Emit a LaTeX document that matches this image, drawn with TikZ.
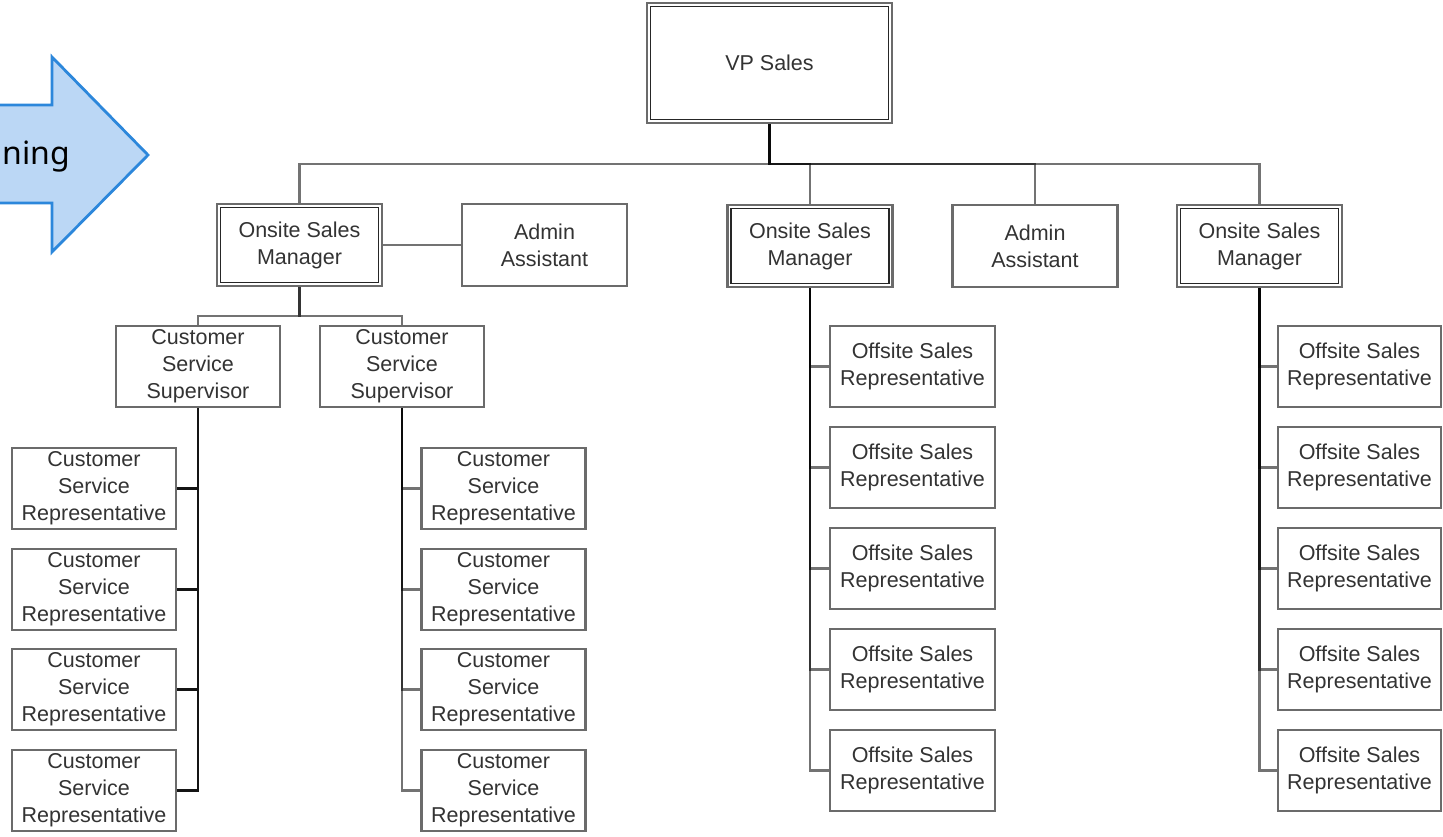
\documentclass[tikz,border=0pt]{standalone}
\usepackage{fontspec}
\setmainfont{Liberation Sans}
\newfontfamily\arrowfont{Noto Sans}
\definecolor{arrowfill}{HTML}{BBD7F5}
\definecolor{arrowline}{HTML}{2C87DB}
\definecolor{txt}{HTML}{333333}
\begin{document}
\begin{tikzpicture}[x=1pt,y=-1pt,
  box/.style={draw=black!58, line width=2.1pt, fill=white, minimum width=164pt, minimum height=81pt,
    inner sep=0pt, align=center, text=txt, font=\fontsize{21.5}{27}\selectfont},
  mgrbox/.style={box, minimum width=165pt, minimum height=82pt},
  vpbox/.style={box, minimum width=245pt, minimum height=120pt},
  innerline/.style={draw=black!85, line width=1.4pt},
  conn/.style={draw=black, draw opacity=0.55, line width=2.3pt},
  connk/.style={draw=black!92, line width=2.7pt},
  bigarrow/.style={draw=arrowline, fill=arrowfill, line width=2.8pt, line join=miter}
]
\useasboundingbox (0,0) rectangle (1443,836);
\clip (0,0) rectangle (1443,836);

% big arrow at left
\draw[bigarrow] (-10,105) -- (52,105) -- (52,57) -- (148,155) -- (52,252) -- (52,203) -- (-10,203) -- cycle;
\node[anchor=base east, inner sep=0pt, font=\arrowfont\fontsize{32}{32}\selectfont, text=black] (arrowtext) at (70,164) {ning};

% bus levels
\coordinate (busA) at (0,164);
\coordinate (busB) at (0,316);

% nodes
\node[vpbox] (vp) at (769.5,63) {VP Sales};
\node[mgrbox] (osm1) at (299.5,245) {Onsite Sales\\Manager};
\node[mgrbox] (adm1) at (544.5,245) {Admin\\Assistant};
\node[mgrbox] (osm2) at (810,246) {Onsite Sales\\Manager};
\node[mgrbox] (adm2) at (1035,246) {Admin\\Assistant};
\node[mgrbox] (osm3) at (1259.5,246) {Onsite Sales\\Manager};

\node[box] (css1) at (198,366.5) {Customer\\Service\\Supervisor};
\node[box] (css2) at (402,366.5) {Customer\\Service\\Supervisor};

\foreach \i/\y in {1/488.5,2/589.5,3/689.5,4/790.5}{
  \node[box] (csrL\i) at (94,\y) {Customer\\Service\\Representative};
  \node[box] (csrR\i) at (503.5,\y) {Customer\\Service\\Representative};
}
\foreach \i/\y in {1/366.5,2/467.5,3/568.5,4/669.5,5/770.5}{
  \node[box, minimum width=165pt] (osrM\i) at (912.5,\y) {Offsite Sales\\Representative};
  \node[box, minimum width=163pt] (osrR\i) at (1359.5,\y) {Offsite Sales\\Representative};
}

% inner lines of double boxes
\foreach \n in {vp,osm1,osm2,osm3}{
  \draw[innerline] ([xshift=4.5pt,yshift=-4.5pt]\n.north west) rectangle ([xshift=-4.5pt,yshift=4.5pt]\n.south east);
}

% connectors from VP
\foreach \c in {osm1,osm2,adm2,osm3}{
  \draw[conn] (vp.south) -- (vp.south |- busA) -| (\c.north);
}
% manager 1 to assistant and supervisors
\draw[conn] (osm1.east) -- (adm1.west);
\foreach \c in {css1,css2}{
  \draw[conn] (osm1.south) -- (osm1.south |- busB) -| (\c.north);
}
% supervisors to representatives
\foreach \i in {1,2,3,4}{
  \draw[connk] (css1.south) |- (csrL\i.east);
  \draw[conn] (css2.south) |- (csrR\i.west);
}
% managers to offsite representatives
\foreach \i in {1,2,3,4,5}{
  \draw[conn] (osm2.south) |- (osrM\i.west);
  \draw[conn] (osm3.south) |- (osrR\i.west);
}
\end{tikzpicture}
\end{document}
